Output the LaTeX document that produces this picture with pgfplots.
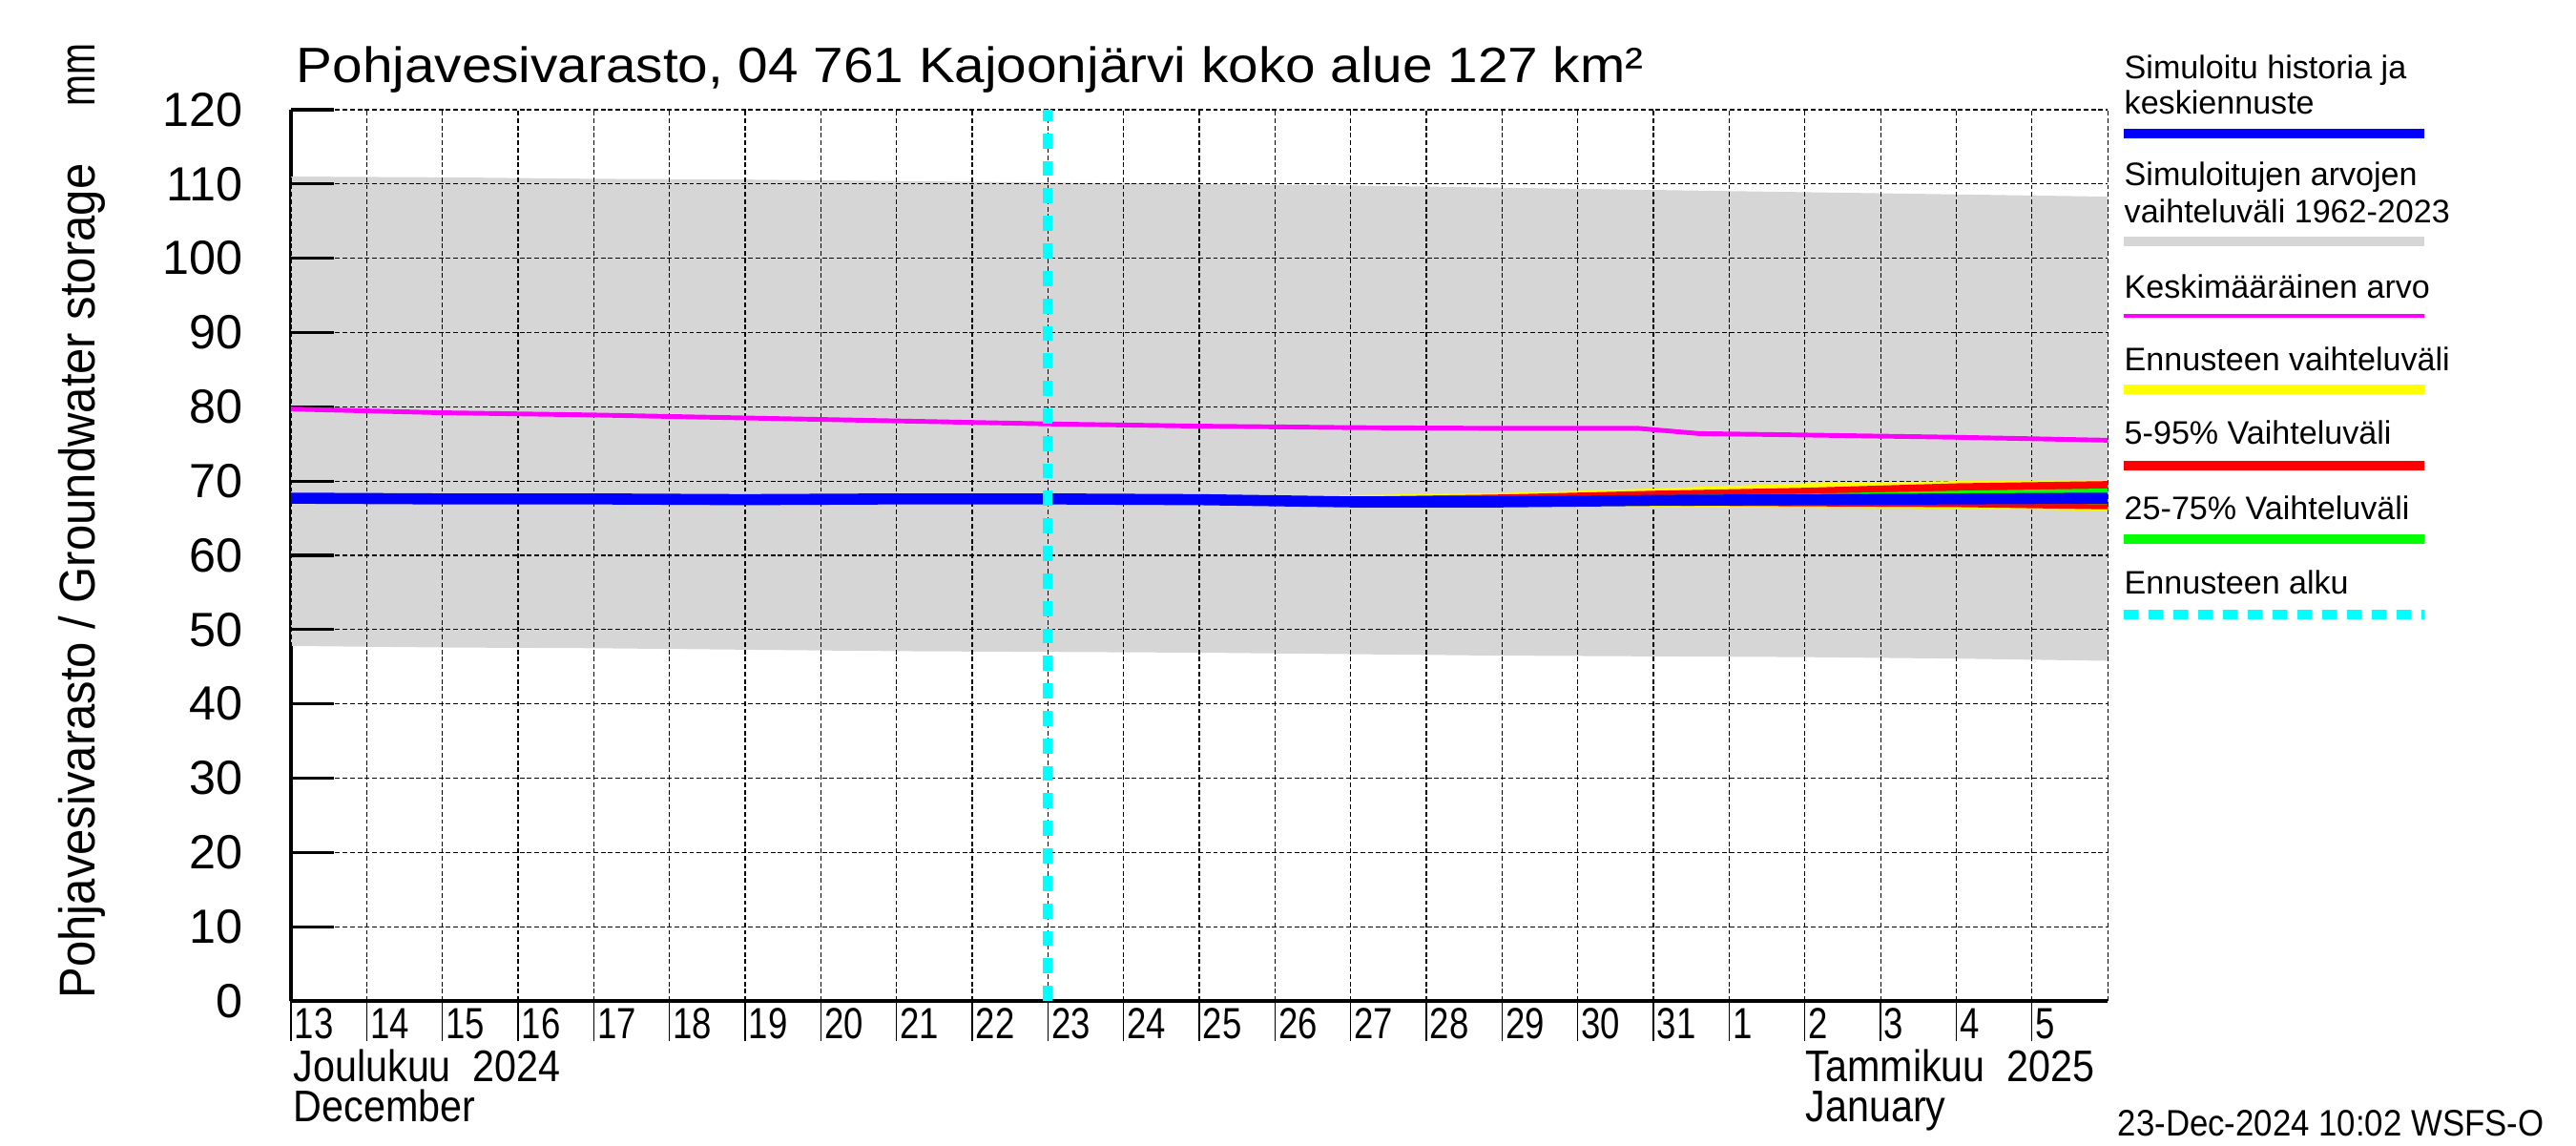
\documentclass[border=0pt]{standalone}
\usepackage{fontspec}
\setmainfont{Liberation Sans}
\usepackage{graphicx}
\usepackage{pgfplots}
\pgfplotsset{compat=1.18}

\definecolor{bandgray}{RGB}{214,214,214}
\definecolor{fcblue}{RGB}{0,0,255}
\definecolor{fcmag}{RGB}{255,0,255}
\definecolor{fcyel}{RGB}{255,255,0}
\definecolor{fcred}{RGB}{255,0,0}
\definecolor{fcgreen}{RGB}{0,255,0}
\definecolor{fccyan}{RGB}{0,255,255}

% narrowed text as in the original
\newcommand\nx[1]{\scalebox{0.8}[1]{#1}}
\newcommand\ny[1]{\scalebox{0.93}[1]{#1}}
\newcommand\nm[1]{\scalebox{0.89}[1]{#1}}

% gray range sits above the axis lines but below the grid
\pgfplotsset{
  layers/fcl/.define layer set={
    axis background,axis lines,main,axis grid,axis ticks,axis tick labels,axis descriptions,axis foreground
  }{
    grid style={/pgfplots/on layer=axis grid},
    tick style={/pgfplots/on layer=axis ticks},
    axis line style={/pgfplots/on layer=axis lines},
    label style={/pgfplots/on layer=axis descriptions},
    legend style={/pgfplots/on layer=axis descriptions},
    title style={/pgfplots/on layer=axis descriptions},
    colorbar style={/pgfplots/on layer=axis descriptions},
    ticklabel style={/pgfplots/on layer=axis tick labels},
    axis background@ style={/pgfplots/on layer=axis background},
    3d box foreground style={/pgfplots/on layer=axis foreground},
  },
}

\begin{document}
\begin{tikzpicture}
\path (-3.05,-1.51) rectangle (23.95,10.49);

\begin{axis}[
    set layers=fcl,
    scale only axis,
    width=19.04cm, height=9.34cm,
    xmin=0, xmax=24, ymin=0, ymax=120,
    axis x line=bottom, axis y line=left,
    axis line style={-, line width=1.3pt},
    xtick={0,...,23},
    xticklabels={\nx{13},\nx{14},\nx{15},\nx{16},\nx{17},\nx{18},\nx{19},\nx{20},\nx{21},\nx{22},\nx{23},\nx{24},\nx{25},\nx{26},\nx{27},\nx{28},\nx{29},\nx{30},\nx{31},\nx{1},\nx{2},\nx{3},\nx{4},\nx{5}},
    extra x ticks={24}, extra x tick labels={},
    extra x tick style={major tick length=0pt},
    ytick={0,10,...,120},
    grid=major,
    major grid style={black, line width=0.3pt, dash pattern=on 1.4pt off 0.8pt},
    tick align=inside,
    major tick length=0.42cm,
    % x ticks hang below the axis, y ticks point inward
    xtick style={black, line width=0.4pt, yshift=-0.42cm},
    ytick style={black, line width=0.9pt, xscale=1.07},
    /pgf/number format/assume math mode=true,
    xticklabel style={font=\fontsize{13}{14}\selectfont, anchor=north west, inner sep=0pt, xshift=0.03cm, yshift=-0.07cm},
    yticklabel style={font=\fontsize{14.3}{15}\selectfont, anchor=east, inner sep=0pt, xshift=-0.5cm},
]

% simulated range 1962-2023
\addplot[fill=bandgray, draw=none] coordinates {
    (0,111.0) (2,110.9) (4,110.7) (6,110.6) (8,110.4) (10,110.2) (12,110.0)
    (14,109.8) (16,109.5) (18,109.2) (20,108.9) (22,108.6) (24,108.3)
    (24,45.8) (22,46.1) (20,46.3) (18,46.4) (16,46.5) (14,46.7) (12,46.9)
    (10,47.0) (8,47.1) (6,47.3) (4,47.5) (2,47.6) (0,47.8)
};

% forecast ranges
\addplot[fill=fcyel, draw=none, on layer=axis foreground] coordinates {
    (10,67.7) (12,67.9) (14,68.1) (16,68.4) (18,69.0) (20,69.7) (22,70.0) (24,70.1)
    (24,66.0) (22,66.3) (20,66.4) (18,66.5) (16,66.7) (14,66.8) (12,67.2) (10,67.5)
};
\addplot[fill=fcred, draw=none, on layer=axis foreground] coordinates {
    (10,67.7) (12,67.8) (14,67.9) (16,68.2) (18,68.7) (20,69.1) (22,69.7) (24,70.0)
    (24,66.2) (22,66.5) (20,66.6) (18,66.7) (16,66.8) (14,66.9) (12,67.3) (10,67.5)
};
\addplot[fill=fcgreen, draw=none, on layer=axis foreground] coordinates {
    (10,67.7) (14,67.8) (16,67.9) (18,68.1) (20,68.3) (22,68.7) (24,69.0)
    (24,66.9) (20,67.0) (16,67.1) (10,67.5)
};

% mean value
\addplot[fcmag, line width=1.4pt, on layer=axis foreground] coordinates {
    (0,79.7) (2,79.2) (4,78.9) (6,78.5) (8,78.1) (10,77.7) (12,77.4) (14,77.2)
    (16,77.1) (17.8,77.1) (18.6,76.4) (20,76.2) (22,75.9) (24,75.5)
};

% simulated history and median forecast
\addplot[fcblue, line width=3.3pt, on layer=axis foreground] coordinates {
    (0,67.7) (2,67.6) (4,67.6) (6,67.5) (8,67.6) (10,67.6) (12,67.5) (14,67.2)
    (16,67.2) (18,67.4) (20,67.5) (22,67.6) (24,67.7)
};

% forecast start
\addplot[fccyan, line width=2.8pt, dash pattern=on 4.5pt off 3.7pt, on layer=axis foreground] coordinates {
    (10,0) (10,120)
};

% month boundary
\draw[line width=1pt] (axis cs:19,0) -- ([yshift=-0.69cm]axis cs:19,0);
\end{axis}

% title and axis texts
\node[anchor=base west, inner sep=0pt, font=\fontsize{14.8}{15}\selectfont] at (0.05,9.62)
    {\scalebox{1.09}[1]{Pohjavesivarasto, 04 761 Kajoonjärvi koko alue 127 km²}};
\node[rotate=90, anchor=base west, inner sep=0pt, font=\fontsize{15}{16}\selectfont] at (-2.05,0.02)
    {\ny{Pohjavesivarasto / Groundwater storage}};
\node[rotate=90, anchor=base east, inner sep=0pt, font=\fontsize{15}{16}\selectfont] at (-2.05,10.04)
    {\scalebox{0.75}[1]{mm}};

\begin{scope}[every node/.style={anchor=base west, inner sep=0pt, font=\fontsize{13.2}{14}\selectfont}]
\node at (0.02,-0.84) {\nm{Joulukuu\ \ 2024}};
\node at (0.02,-1.26) {\nm{December}};
\node at (15.87,-0.84) {\nm{Tammikuu\ \ 2025}};
\node at (15.87,-1.26) {\nm{January}};
\end{scope}

\node[anchor=west, inner sep=0pt, font=\fontsize{11}{12}\selectfont] at (19.14,-1.28)
    {\scalebox{0.9}[1]{23-Dec-2024 10:02 WSFS-O}};

% legend
\begin{scope}[every node/.style={anchor=west, inner sep=0pt, font=\fontsize{9.7}{10}\selectfont}]
\node at (19.21,9.75) {Simuloitu historia ja};
\node at (19.21,9.42) {keskiennuste};
\draw[fcblue, line width=2.8pt] (19.21,9.09) -- (22.36,9.09);
\node at (19.21,8.63) {Simuloitujen arvojen};
\node at (19.21,8.28) {vaihteluväli 1962-2023};
\draw[bandgray, line width=2.8pt] (19.21,7.96) -- (22.36,7.96);
\node at (19.21,7.49) {Keskimääräinen arvo};
\draw[fcmag, line width=1.4pt] (19.21,7.18) -- (22.36,7.18);
\node at (19.21,6.73) {Ennusteen vaihteluväli};
\draw[fcyel, line width=2.8pt] (19.21,6.41) -- (22.36,6.41);
\node at (19.21,5.96) {5-95\% Vaihteluväli};
\draw[fcred, line width=2.8pt] (19.21,5.61) -- (22.36,5.61);
\node at (19.21,5.17) {25-75\% Vaihteluväli};
\draw[fcgreen, line width=2.8pt] (19.21,4.84) -- (22.36,4.84);
\node at (19.21,4.39) {Ennusteen alku};
\draw[fccyan, line width=2.8pt, dash pattern=on 4.2pt off 3.2pt] (19.21,4.05) -- (22.36,4.05);
\end{scope}
\end{tikzpicture}
\end{document}
